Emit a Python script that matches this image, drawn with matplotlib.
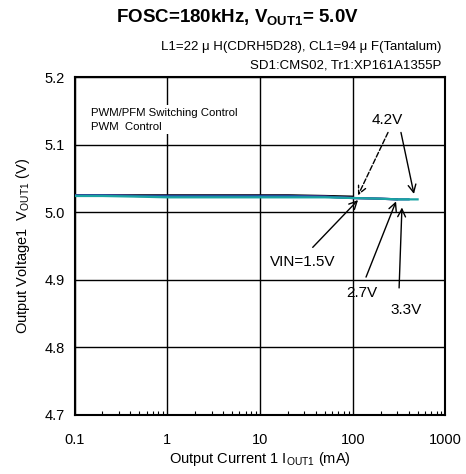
import matplotlib
matplotlib.use("Agg")
import matplotlib.pyplot as plt
from matplotlib.ticker import LogLocator, FixedLocator, NullFormatter

plt.rcParams["font.family"] = ["Liberation Sans", "DejaVu Sans"]
plt.rcParams["mathtext.fontset"] = "custom"
plt.rcParams["mathtext.rm"] = "Liberation Sans"
plt.rcParams["mathtext.bf"] = "Liberation Sans:bold"

# output current (mA)
iout = [0.1, 0.2, 0.5, 1, 2, 5, 10, 20, 50, 100, 200, 300, 400, 500]

# output voltage per input voltage
v15 = [5.025, 5.025, 5.025, 5.025, 5.025, 5.025, 5.025, 5.025, 5.024, 5.023]
v27 = [5.025, 5.025, 5.024, 5.024, 5.024, 5.024, 5.024, 5.024, 5.023, 5.021, 5.020, 5.019]
v33 = [5.025, 5.025, 5.024, 5.024, 5.024, 5.024, 5.024, 5.024, 5.023, 5.021, 5.020, 5.019, 5.019]
v42 = [5.024, 5.024, 5.023, 5.022, 5.022, 5.022, 5.022, 5.022, 5.022, 5.021, 5.020, 5.019, 5.019, 5.019]

series = [
    (v15, "#000000"),
    (v27, "#8b1a8b"),
    (v33, "#1f4f9f"),
    (v42, "#1aa3a3"),
]

xticks = [0.1, 1, 10, 100, 1000]
xticklabels = ["0.1", "1", "10", "100", "1000"]
yticks = [4.7, 4.8, 4.9, 5.0, 5.1, 5.2]

fig = plt.figure(figsize=(4.66, 4.74), dpi=100)
ax = fig.add_axes([0.16, 0.1245, 0.796, 0.713])

for vals, color in series:
    ax.plot(iout[:len(vals)], vals, color=color, lw=1.6, zorder=3)

ax.set_xscale("log")
ax.set_xlim(0.1, 1000)
ax.set_ylim(4.7, 5.2)
ax.xaxis.set_major_locator(FixedLocator(xticks))
ax.set_xticklabels(xticklabels)
ax.xaxis.set_minor_locator(LogLocator(base=10, subs=range(2, 10)))
ax.xaxis.set_minor_formatter(NullFormatter())
ax.set_yticks(yticks)
ax.set_yticklabels([f"{v:.1f}" for v in yticks])
ax.grid(True, which="major", color="black", lw=1.0)
ax.tick_params(which="major", length=0, labelsize=10.5)
ax.tick_params(axis="x", which="major", pad=13)
ax.tick_params(axis="y", which="major", pad=7)
ax.tick_params(which="minor", axis="x", direction="in", length=3, width=0.8)
for sp in ax.spines.values():
    sp.set_linewidth(1.5)

ax.set_xlabel(r"Output Current 1 I$_{\mathregular{OUT1}}$ (mA)", fontsize=10.5, labelpad=2)
ax.set_ylabel(r"Output Voltage1  V$_{\mathregular{OUT1}}$ (V)", fontsize=10.5, labelpad=9)

fig.text(0.51, 0.962, r"FOSC=180kHz, V$_{\mathbf{OUT1}}$= 5.0V", fontsize=13.5,
         fontweight="bold", ha="center", va="center")
fig.text(0.947, 0.901, "L1=22 \u03bc H(CDRH5D28), CL1=94 \u03bc F(Tantalum)", fontsize=9.5,
         ha="right", va="center")
fig.text(0.947, 0.861, "SD1:CMS02, Tr1:XP161A1355P", fontsize=9.5,
         ha="right", va="center")

ax.text(0.15, 5.137, "PWM/PFM Switching Control\nPWM  Control", fontsize=8.2,
        ha="left", va="center", linespacing=1.5,
        bbox=dict(facecolor="white", edgecolor="none", pad=2), zorder=4)

arrow = dict(arrowstyle="->", color="black", lw=1, shrinkA=0, shrinkB=0,
             mutation_scale=14)
ax.text(234, 5.136, "4.2V", fontsize=11, ha="center", va="center")
ax.annotate("", xy=(114, 5.025), xytext=(240, 5.118),
            arrowprops=dict(arrow, linestyle="--"))
ax.annotate("", xy=(457, 5.027), xytext=(331, 5.118), arrowprops=arrow)

ax.text(29, 4.926, "VIN=1.5V", fontsize=11, ha="center", va="center")
ax.annotate("", xy=(114, 5.018), xytext=(37, 4.948), arrowprops=arrow)

ax.text(126, 4.880, "2.7V", fontsize=11, ha="center", va="center")
ax.annotate("", xy=(293, 5.016), xytext=(139, 4.904), arrowprops=arrow)

ax.text(373, 4.855, "3.3V", fontsize=11, ha="center", va="center")
ax.annotate("", xy=(339, 5.007), xytext=(316, 4.888), arrowprops=arrow)

fig.savefig("out.png", dpi=100)
